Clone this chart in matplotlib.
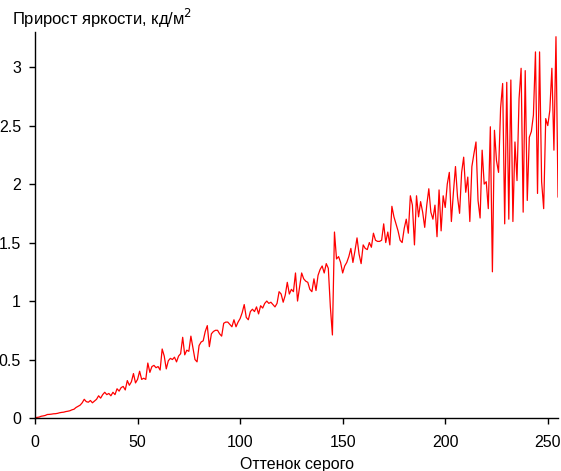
import matplotlib
matplotlib.use("Agg")
import matplotlib.pyplot as plt
from matplotlib.ticker import FuncFormatter

title = "Прирост яркости, кд/м$^2$"
xlabel = "Оттенок серого"
xticks = [0, 50, 100, 150, 200, 250]
yticks = [0, 0.5, 1, 1.5, 2, 2.5, 3]

values = [
    0.003, 0.005, 0.008, 0.015, 0.018, 0.022, 0.03, 0.031, 0.033, 0.036,
    0.037, 0.04, 0.045, 0.048, 0.05, 0.055, 0.058, 0.062, 0.07, 0.075,
    0.09, 0.1, 0.11, 0.13, 0.16, 0.14, 0.135, 0.15, 0.13, 0.145,
    0.16, 0.19, 0.17, 0.2, 0.22, 0.2, 0.21, 0.19, 0.22, 0.2,
    0.25, 0.23, 0.26, 0.27, 0.24, 0.32, 0.28, 0.31, 0.38, 0.3,
    0.33, 0.4, 0.33, 0.34, 0.33, 0.47, 0.39, 0.44, 0.45, 0.43,
    0.44, 0.41, 0.59, 0.53, 0.42, 0.49, 0.51, 0.5, 0.52, 0.48,
    0.53, 0.55, 0.69, 0.54, 0.58, 0.57, 0.7, 0.6, 0.5, 0.48,
    0.62, 0.65, 0.66, 0.74, 0.79, 0.61, 0.72, 0.74, 0.75, 0.75,
    0.72, 0.7, 0.81, 0.82, 0.82, 0.8, 0.78, 0.84, 0.78, 0.82,
    0.85, 0.9, 0.97, 0.86, 0.84, 0.91, 0.93, 0.91, 0.95, 0.89,
    0.96, 0.94, 0.98, 1.0, 0.98, 0.99, 0.97, 0.95, 0.98, 1.08,
    1.06, 0.99, 1.05, 1.16, 1.06, 1.1, 1.08, 1.24, 1.0, 1.12,
    1.24, 1.19, 1.17, 1.16, 1.1, 1.08, 1.19, 1.09, 1.22, 1.27,
    1.3, 1.24, 1.32, 1.28, 0.95, 0.71, 1.59, 1.36, 1.38, 1.33,
    1.24, 1.3, 1.33, 1.38, 1.45, 1.33, 1.43, 1.54, 1.4, 1.32,
    1.48, 1.45, 1.44, 1.5, 1.46, 1.58, 1.52, 1.51, 1.51, 1.52,
    1.66, 1.5, 1.59, 1.48, 1.81, 1.72, 1.66, 1.6, 1.52, 1.5,
    1.62, 1.7, 1.58, 1.9, 1.82, 1.48, 1.9, 1.72, 1.85, 1.76,
    1.63, 1.82, 1.96, 1.76, 1.7, 1.82, 1.55, 1.95, 1.6, 1.9,
    1.8, 2.0, 2.1, 1.68, 1.93, 2.15, 1.89, 1.75, 2.1, 2.23,
    1.93, 2.06, 1.68, 2.15, 2.26, 2.36, 1.86, 1.71, 2.29, 2.0,
    2.02, 1.79, 2.49, 1.25, 2.46, 2.2, 2.1, 2.65, 2.86, 1.66,
    2.87, 1.7, 2.89, 1.68, 2.36, 2.03, 2.73, 2.99, 1.76, 2.97,
    1.86, 2.4, 2.45, 2.59, 3.13, 1.92, 3.13, 2.02, 1.79, 2.56,
    2.5, 2.63, 2.99, 2.29, 3.26, 1.89,
]
gray = list(range(len(values)))

plt.rcParams['font.family'] = ['Liberation Sans', 'DejaVu Sans']
fig = plt.figure(figsize=(5.61, 4.71), dpi=100)
ax = fig.add_axes([0.0624, 0.1125, 0.9323, 0.8195])
ax.plot(gray, values, color='#ff0000', lw=0.9)
ax.set_xlim(0, 255)
ax.set_ylim(0, 3.3)
ax.set_xticks(xticks)
ax.set_yticks(yticks)
ax.yaxis.set_major_formatter(FuncFormatter(lambda v, p: f"{v:g}"))
for s in ['top', 'right']:
    ax.spines[s].set_visible(False)
for s in ['left', 'bottom']:
    ax.spines[s].set_linewidth(1.0)
ax.tick_params(axis='both', direction='out', length=4, width=1.0, labelsize=11.5)
ax.tick_params(axis='x', pad=8)
ax.tick_params(axis='y', pad=6)
ax.set_xlabel(xlabel, fontsize=11.5, labelpad=5)
fig.text(0.021, 0.985, title, fontsize=12, ha='left', va='top')
fig.savefig("out.png", dpi=100)
